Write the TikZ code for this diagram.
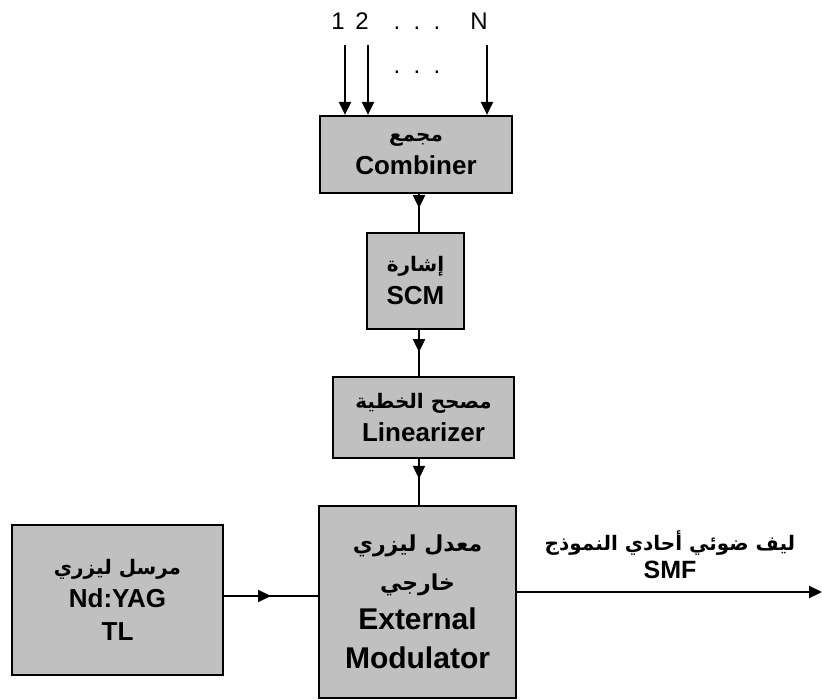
\documentclass[tikz,border=0pt]{standalone}
\usepackage{fontspec}
\setmainfont{Liberation Sans}
\newfontfamily\arabicfont[Script=Arabic]{DejaVu Sans Bold}
\TeXXeTstate=1
\usetikzlibrary{arrows.meta,decorations.markings}
\newcommand\artxt[1]{{\arabicfont\fontsize{20}{22}\selectfont\beginR #1\endR}}
\newcommand\artxtbig[1]{{\arabicfont\fontsize{22}{24}\selectfont\beginR #1\endR}}
\begin{document}
\begin{tikzpicture}[x=1pt,y=-1pt,
  blk/.style={draw=black,line width=2.2pt,fill=boxgray,inner sep=0pt,align=center,
    font=\fontsize{26}{33}\selectfont\bfseries},
  conn/.style={line width=2.2pt},
  tip/.style={-{Triangle[length=13pt,width=12pt]}},
  midarrow/.style={postaction={decorate},decoration={markings,
    mark=at position #1 with {\arrow{Triangle[length=13pt,width=12pt]}}}},
  lbl/.style={inner sep=0pt,font=\fontsize{24}{28}\selectfont}
]
\definecolor{boxgray}{HTML}{C0C0C0}
\useasboundingbox (0,0) rectangle (822,700);
\fill[white] (0,0) rectangle (822,700);

% boxes
\node[blk,minimum width=192pt,minimum height=77pt] (comb) at (416,154.5)
  {\artxt{مجمع}\\Combiner};
\node[blk,minimum width=97pt,minimum height=96pt] (scm) at (415.5,281)
  {\artxt{إشارة}\\SCM};
\node[blk,minimum width=181pt,minimum height=81pt] (lin) at (423.5,417.5)
  {\artxt{مصحح الخطية}\\Linearizer};
\node[blk,minimum width=197pt,minimum height=192pt,
  font=\fontsize{30}{39}\selectfont\bfseries] (mod) at (417.5,602)
  {\artxtbig{معدل ليزري}\\\artxtbig{خارجي}\\External\\Modulator};
\node[blk,minimum width=211pt,minimum height=150pt] (tl) at (117.5,600)
  {\artxt{مرسل ليزري}\\Nd:YAG\\TL};

% input labels
\node[lbl,anchor=base] (n1) at (338,30) {1};
\node[lbl,anchor=base] (n2) at (362,30) {2};
\node[lbl,anchor=base] (nd) at (417,30) {.\ \ .\ \ .};
\node[lbl,anchor=base] (nN) at (479,30) {N};
\node[lbl,anchor=base] (nd2) at (417,74) {.\ \ .\ \ .};

% input arrows
\coordinate (s1) at (345,45);
\coordinate (s2) at (368,45);
\coordinate (sN) at (487,45);
\draw[conn,tip] (s1) -- (s1 |- comb.north);
\draw[conn,tip] (s2) -- (s2 |- comb.north);
\draw[conn,tip] (sN) -- (sN |- comb.north);

% vertical chain
\coordinate (ax) at (419,0);
\draw[conn,midarrow=0.37] (ax |- comb.south) -- (ax |- scm.north);
\draw[conn,midarrow=0.48] (ax |- scm.south) -- (ax |- lin.north);
\draw[conn,midarrow=0.43] (ax |- lin.south) -- (ax |- mod.north);

% laser to modulator
\coordinate (ly) at (0,596);
\draw[conn,midarrow=0.5] (tl.east |- ly) -- (mod.west |- ly);

% output
\coordinate (out) at (822,592);
\draw[conn,tip] (mod.east |- out) -- (out);
\node[inner sep=0pt,align=center,font=\fontsize{25}{28}\selectfont\bfseries] (smf) at (670,555)
  {\artxt{ليف ضوئي أحادي النموذج}\\SMF};
\end{tikzpicture}
\end{document}
